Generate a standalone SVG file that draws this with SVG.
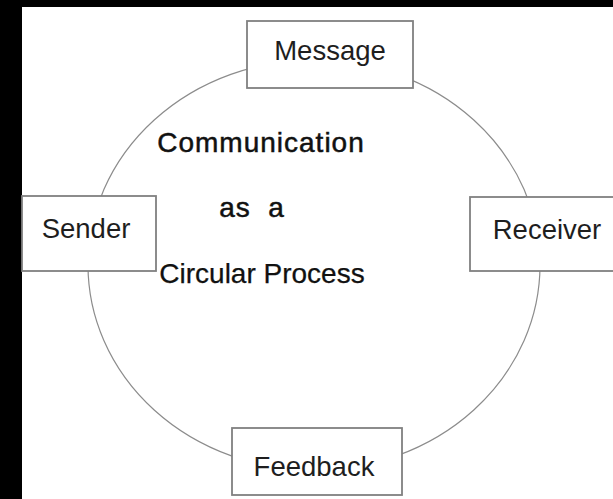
<svg xmlns="http://www.w3.org/2000/svg" width="613" height="499" viewBox="0 0 613 499">
<style>
.box{fill:#ffffff;stroke:#808080;stroke-width:1.8}
.lbl{font-family:"Liberation Sans",Arial,sans-serif;font-size:27.5px;fill:#1e1e1e;text-anchor:middle}
.title{font-family:"Liberation Sans",Arial,sans-serif;font-size:28px;fill:#111;stroke:#111;text-anchor:middle}
.ring{fill:none;stroke:#8c8c8c;stroke-width:1.2}
</style>
<rect x="0" y="0" width="613" height="499" fill="#ffffff"/>
<rect x="0" y="0" width="613" height="7" fill="#000"/>
<rect x="0" y="0" width="22" height="499" fill="#000"/>
<g id="connectors">
<ellipse class="ring" cx="314" cy="265" rx="226" ry="205"/>
</g>
<g id="message"><rect class="box" x="247" y="21" width="166" height="67"/><text class="lbl" x="330" y="60">Message</text></g>
<g id="sender"><rect class="box" x="22" y="196" width="134" height="75"/><text class="lbl" x="86" y="238">Sender</text></g>
<g id="receiver"><rect class="box" x="470" y="197" width="160" height="74"/><text class="lbl" x="547" y="239">Receiver</text></g>
<g id="feedback"><rect class="box" x="232" y="428" width="170" height="67"/><text class="lbl" x="314" y="476">Feedback</text></g>
<g id="title">
<text class="title" x="261" y="152" letter-spacing="1" stroke-width="0.5">Communication</text>
<text class="title" x="252" y="217" xml:space="preserve" letter-spacing="1" stroke-width="0.5">as  a</text>
<text class="title" x="262" y="283" stroke-width="0.25">Circular Process</text>
</g>
</svg>
